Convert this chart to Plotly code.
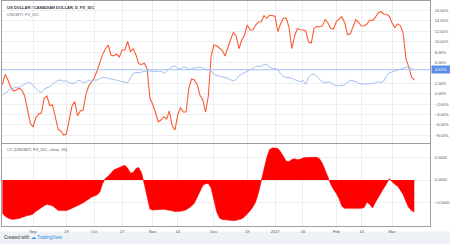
import pandas as pd
import plotly.graph_objects as go
from plotly.subplots import make_subplots

# Daily bars (weekdays) shown on the chart
dates = [d.strftime("%Y-%m-%d") for d in pd.bdate_range("2016-08-17", "2017-03-13")]

# US DOLLAR / CANADIAN DOLLAR, percent scale
usdcad_pct = [
    1.77, 3.71, 2.62, 1.29, 0.52, 0.71, 1.06, 0.71, -0.44, -2.94,
    -5.63, -6.40, -4.67, -3.90, -3.71, -0.90, -0.44, -2.27, -2.17, -4.42,
    -6.87, -7.17, -7.94, -7.75, -4.67, -2.37, -1.52, -4.21, -3.33, -3.13,
    -0.19, 1.48, 2.25, 3.02, 4.37, 5.90, 7.52, 8.60, 9.37, 7.44,
    7.25, 7.63, 7.06, 8.40, 8.40, 10.04, 8.12, 8.63, 7.46, 5.75,
    5.62, 5.85, 4.81, -0.83, -2.04, -3.62, -5.40, -5.06, -4.42, -4.87,
    -3.33, -6.17, -6.98, -4.10, -2.65, -3.52, -3.52, 1.10, 2.83, 2.63,
    1.75, -0.29, -1.21, -3.52, -0.44, 7.25, 9.40, 9.23, 8.73, 8.35,
    7.25, 9.08, 10.42, 11.75, 11.10, 8.65, 10.33, 11.29, 13.21, 12.25,
    12.25, 13.21, 13.79, 13.83, 15.00, 14.50, 15.08, 15.04, 14.87, 11.92,
    13.50, 14.50, 14.56, 12.77, 8.69, 11.10, 12.54, 12.29, 12.25, 12.06,
    9.94, 9.75, 12.63, 12.92, 12.88, 13.04, 14.27, 13.60, 12.52, 12.44,
    13.88, 14.40, 14.81, 13.60, 11.38, 11.48, 12.92, 14.27, 13.69, 13.02,
    13.06, 13.40, 14.17, 14.06, 14.69, 15.52, 15.81, 15.33, 15.29, 14.94,
    13.63, 12.67, 13.40, 13.06, 11.67, 6.75, 5.17, 3.25, 2.63,
]

# USDWTI overlay, percent scale
usdwti_pct = [
    -0.29, 0.13, 0.60, 0.90, 1.06, 1.23, 1.23, 1.48, 1.87, 2.12,
    2.08, 1.60, 0.94, 0.52, 0.21, 0.85, 1.17, 1.35, 1.83, 2.25,
    2.63, 2.58, 2.37, 2.48, 2.10, 1.96, 2.02, 2.52, 2.50, 2.10,
    2.21, 2.60, 2.31, 2.63, 2.63, 2.92, 3.15, 3.08, 2.96, 2.87,
    2.81, 2.71, 2.48, 2.31, 2.27, 2.15, 3.02, 3.92, 4.04, 4.04,
    4.15, 4.29, 4.37, 4.37, 4.35, 4.23, 4.23, 4.33, 3.88, 4.33,
    4.77, 5.17, 5.33, 4.83, 4.71, 5.17, 5.08, 4.67, 4.79, 4.88,
    5.06, 5.15, 4.94, 4.62, 4.56, 4.40, 3.71, 3.46, 3.35, 3.23,
    3.12, 2.96, 2.69, 2.42, 2.77, 3.42, 3.79, 4.06, 4.27, 4.46,
    4.85, 5.29, 5.33, 5.25, 5.65, 5.60, 5.17, 4.88, 4.88, 4.62,
    3.81, 3.29, 3.15, 3.13, 2.98, 2.71, 2.44, 2.31, 2.56, 1.81,
    3.13, 3.63, 3.77, 3.35, 2.73, 2.25, 2.12, 2.27, 2.12, 1.75,
    1.56, 1.48, 1.54, 1.69, 2.25, 2.58, 2.42, 2.33, 1.98, 1.85,
    1.83, 1.87, 1.87, 1.98, 2.08, 2.29, 2.13, 2.40, 3.48, 4.00,
    4.19, 4.35, 4.50, 4.63, 4.79, 5.08, 5.25, 4.90, 4.61,
]

# CC (USDWTI, FX_IDC, close, 20)
cc_values = [
    -0.733, -0.807, -0.844, -0.869, -0.873, -0.867, -0.856, -0.831, -0.802, -0.789,
    -0.778, -0.756, -0.700, -0.653, -0.609, -0.571, -0.540, -0.556, -0.573, -0.622,
    -0.673, -0.680, -0.684, -0.680, -0.656, -0.631, -0.600, -0.578, -0.540, -0.507,
    -0.462, -0.411, -0.382, -0.356, -0.331, -0.267, -0.082, 0.036, 0.082, 0.149,
    0.222, 0.251, 0.280, 0.307, 0.327, 0.262, 0.156, 0.167, 0.256, 0.278,
    0.156, -0.089, -0.378, -0.644, -0.667, -0.667, -0.660, -0.653, -0.649, -0.656,
    -0.669, -0.684, -0.700, -0.704, -0.693, -0.684, -0.662, -0.622, -0.578, -0.511,
    -0.384, -0.222, -0.122, -0.082, -0.078, -0.178, -0.422, -0.707, -0.844, -0.878,
    -0.884, -0.893, -0.900, -0.902, -0.896, -0.882, -0.862, -0.818, -0.756, -0.684,
    -0.600, -0.489, -0.289, -0.040, 0.211, 0.500, 0.678, 0.711, 0.711, 0.700,
    0.622, 0.522, 0.418, 0.404, 0.456, 0.473, 0.451, 0.460, 0.489, 0.498,
    0.504, 0.504, 0.504, 0.504, 0.467, 0.367, 0.211, 0.060, -0.096, -0.211,
    -0.300, -0.422, -0.584, -0.629, -0.629, -0.622, -0.618, -0.622, -0.629, -0.629,
    -0.611, -0.489, -0.544, -0.622, -0.500, -0.384, -0.267, -0.184, -0.089, 0.030,
    -0.036, -0.096, -0.133, -0.222, -0.322, -0.478, -0.611, -0.678, -0.711,
]

x_tick_dates = ["2016-09-01", "2016-09-19", "2016-10-03", "2016-10-17", "2016-11-01",
                "2016-11-14", "2016-12-01", "2016-12-19", "2017-01-02", "2017-01-16",
                "2017-02-01", "2017-02-14", "2017-03-01"]
x_tick_text = ["Sep", "19", "Oct", "17", "Nov", "14", "Dec", "19", "2017", "16",
               "Feb", "14", "Mar"]

pct_ticks = [-8, -6, -4, -2, 0, 2, 6, 8, 10, 12, 14, 16]
pct_tick_text = [("\u2212" if v < 0 else "") + f"{abs(v):.2f}%" for v in pct_ticks]
cc_ticks = [-0.5, 0.0, 0.5]
cc_tick_text = [("\u2212" if v < 0 else "") + f"{abs(v):.4f}" for v in cc_ticks]

last_label = usdwti_pct[-1]

ORANGE = "#fb5c33"
BLUE = "#a3bff0"
GRID = "#eceef2"
AXIS = "#9aa0a8"
TXT = "#50535e"
FONT = "Liberation Sans, Arial, sans-serif"

fig = make_subplots(rows=2, cols=1, shared_xaxes=True, vertical_spacing=0.0)

fig.add_trace(go.Scatter(x=dates, y=usdcad_pct, mode="lines",
                         line=dict(color=ORANGE, width=1.1), hoverinfo="skip"), row=1, col=1)
fig.add_trace(go.Scatter(x=dates, y=usdwti_pct, mode="lines",
                         line=dict(color=BLUE, width=1), hoverinfo="skip"), row=1, col=1)
fig.add_trace(go.Scatter(x=dates, y=cc_values, mode="lines", fill="tozeroy",
                         fillcolor="#ff0000", line=dict(color="#ff0000", width=0.6),
                         hoverinfo="skip"), row=2, col=1)

x_range = [-0.14, 153.65]
common_x = dict(type="category", range=x_range, tickvals=x_tick_dates, ticktext=x_tick_text,
                showgrid=True, gridcolor=GRID, gridwidth=1, showline=True, linecolor=AXIS,
                linewidth=1, mirror=True, ticks="", zeroline=False)

fig.update_layout(
    width=450, height=244,
    margin=dict(l=2, r=20, t=1, b=18),
    paper_bgcolor="white", plot_bgcolor="white",
    showlegend=False,
    font=dict(family=FONT, size=4, color=TXT),
    xaxis=dict(**common_x, showticklabels=False),
    xaxis2=dict(**common_x, showticklabels=True, tickfont=dict(size=4, color=TXT),
                ticklabelstandoff=1),
    yaxis=dict(domain=[0.3689, 1.0], side="right", range=[-9.48, 17.83],
               tickvals=pct_ticks, ticktext=pct_tick_text, showgrid=True, gridcolor=GRID,
               zeroline=False, showline=True, linecolor=AXIS, mirror=True, ticks="",
               tickfont=dict(size=4, color=TXT), ticklabelstandoff=3),
    yaxis2=dict(domain=[0.0, 0.3644], side="right", range=[-1.022, 0.8],
                tickvals=cc_ticks, ticktext=cc_tick_text, showgrid=True, gridcolor=GRID,
                zeroline=False, showline=True, linecolor=AXIS, mirror=True, ticks="",
                tickfont=dict(size=4, color=TXT), ticklabelstandoff=3),
)

# price line of the overlay series
fig.add_shape(type="line", xref="x domain", yref="y", x0=0, x1=1,
              y0=last_label, y1=last_label, line=dict(color=BLUE, width=1))
fig.add_annotation(xref="paper", yref="y", x=1.0, y=last_label, xanchor="left",
                   yanchor="middle", text=f"{last_label:.2f}%", showarrow=False,
                   bgcolor="#5b8fe8", font=dict(size=4, color="white"),
                   width=18, height=7, borderpad=0, xshift=1)

# pane titles
fig.add_annotation(xref="paper", yref="paper", x=0.007, y=0.973, xanchor="left",
                   yanchor="middle", showarrow=False,
                   text="<b>US DOLLAR / CANADIAN DOLLAR, D, FX_IDC</b>",
                   font=dict(size=4, color="#333640"))
fig.add_annotation(xref="paper", yref="paper", x=0.007, y=0.940, xanchor="left",
                   yanchor="middle", showarrow=False, text="USDWTI, FX_IDC",
                   font=dict(size=4, color="#6a6d78"))
fig.add_annotation(xref="paper", yref="paper", x=0.007, y=0.342, xanchor="left",
                   yanchor="middle", showarrow=False, text="CC (USDWTI, FX_IDC, close, 20)",
                   font=dict(size=4, color="#50535e"))

# footer
fig.add_shape(type="rect", xref="paper", yref="paper", x0=-0.01, x1=1.05,
              y0=-0.0244, y1=-0.09, fillcolor="#eef1f5", line=dict(width=0), layer="below")
fig.add_annotation(xref="paper", yref="paper", x=0.0, y=-0.053, xanchor="left",
                   yanchor="middle", showarrow=False, text="Created with",
                   font=dict(size=4.5, color="#333640"))
fig.add_annotation(xref="paper", yref="paper", x=0.064, y=-0.053, xanchor="left",
                   yanchor="middle", showarrow=False,
                   text="<span style='color:#2a8fe0'>\u2601</span> TradingView",
                   font=dict(size=4.5, color="#2a8fe0"))

fig.write_html("out.html", config={"displayModeBar": False})
